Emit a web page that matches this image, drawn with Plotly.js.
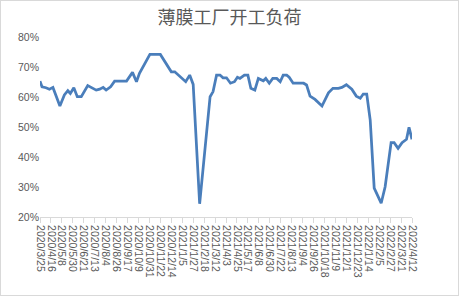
<!DOCTYPE html>
<html>
<head>
<meta charset="utf-8">
<script src="https://cdn.plot.ly/plotly-3.0.1.min.js"></script>
<style>
html,body{margin:0;padding:0;background:#fff;}
#wrap{position:relative;width:459px;height:296px;}
#chart{width:459px;height:296px;}
#frame{position:absolute;left:0;top:0;width:459px;height:296px;box-sizing:border-box;border:1px solid #d9d9d9;pointer-events:none;}
</style>
</head>
<body>
<div id="wrap"><div id="chart"></div><div id="frame"></div></div>
<script>
// Data
const dates = [
"2020-03-25","2020-03-29","2020-04-06","2020-04-13","2020-04-20","2020-04-27","2020-05-04","2020-05-13","2020-05-20","2020-05-25",
"2020-06-01","2020-06-08","2020-06-16","2020-06-29","2020-07-09","2020-07-16","2020-07-23","2020-07-30","2020-08-05","2020-08-14",
"2020-08-22","2020-09-15","2020-09-27","2020-10-05","2020-10-11","2020-11-01","2020-11-22","2020-12-14","2020-12-21","2021-01-12",
"2021-01-20","2021-01-27","2021-02-09","2021-03-02","2021-03-08","2021-03-15","2021-03-22","2021-03-28","2021-04-04","2021-04-12",
"2021-04-20","2021-04-26","2021-05-01","2021-05-10","2021-05-17","2021-05-23","2021-05-31","2021-06-07","2021-06-17","2021-06-22",
"2021-06-29","2021-07-06","2021-07-14","2021-07-21","2021-07-27","2021-08-03","2021-08-08","2021-08-16","2021-09-06","2021-09-12",
"2021-09-19","2021-09-29","2021-10-13","2021-10-19","2021-10-26","2021-11-04","2021-11-15","2021-11-22","2021-12-01","2021-12-12",
"2021-12-21","2021-12-29","2022-01-04","2022-01-11","2022-01-18","2022-01-26","2022-02-09","2022-02-17","2022-03-01","2022-03-07",
"2022-03-15","2022-03-23","2022-04-01","2022-04-06","2022-04-12"
];
const load = [
65.3,63.4,63.1,62.6,63.2,60.1,57.0,60.7,62.1,61.2,
63.1,60.1,60.1,63.8,62.9,62.3,62.6,63.2,62.3,63.4,
65.3,65.3,68.2,65.1,67.9,74.2,74.2,68.4,68.4,65.1,
67.3,64.2,24.4,60.1,61.8,67.3,67.3,66.4,66.4,64.6,
65.1,66.6,66.2,67.3,67.3,62.9,62.3,66.2,65.4,66.2,
64.6,66.2,66.2,65.1,67.3,67.3,66.6,64.6,64.6,64.0,
60.3,59.2,57.0,59.0,61.4,62.9,62.9,63.2,64.1,62.6,
60.3,59.6,61.0,61.0,52.3,29.6,24.6,30.1,44.8,44.8,
42.9,44.8,45.9,49.9,45.9
];
const titleText = "薄膜工厂开工负荷";
const yTicks = [20,30,40,50,60,70,80];

const font = "'Liberation Sans', Arial, sans-serif";
Plotly.newPlot('chart', [{
  type: 'scatter', mode: 'lines',
  x: dates, y: load,
  line: {color: '#4a7ebb', width: 2.75},
  hoverinfo: 'skip'
}], {
  width: 459, height: 296,
  paper_bgcolor: '#fff', plot_bgcolor: '#fff',
  margin: {l: 40, r: 47, t: 37, b: 79},
  showlegend: false,
  title: {text: titleText, x: 0.5, xanchor: 'center', y: 0.94, yanchor: 'middle',
          font: {family: "'Noto Sans CJK SC', sans-serif", size: 18, color: '#595959'}},
  xaxis: {
    type: 'date', range: ['2020-03-25', '2022-04-12'],
    tick0: '2020-03-25', dtick: 22*86400000,
    tickformat: '%Y/%-m/%-d', tickangle: 90,
    ticks: 'outside', ticklen: 5, tickcolor: '#d9d9d9',
    showline: true, linecolor: '#d9d9d9', linewidth: 1,
    showgrid: false, zeroline: false,
    tickfont: {family: font, size: 10.5, color: '#595959'}
  },
  yaxis: {
    range: [20, 80], tickvals: yTicks, ticktext: yTicks.map(v => v + '%'),
    showgrid: false, zeroline: false, showline: false, ticks: '',
    tickfont: {family: font, size: 10.5, color: '#595959'}
  }
}, {staticPlot: true});
</script>
</body>
</html>
